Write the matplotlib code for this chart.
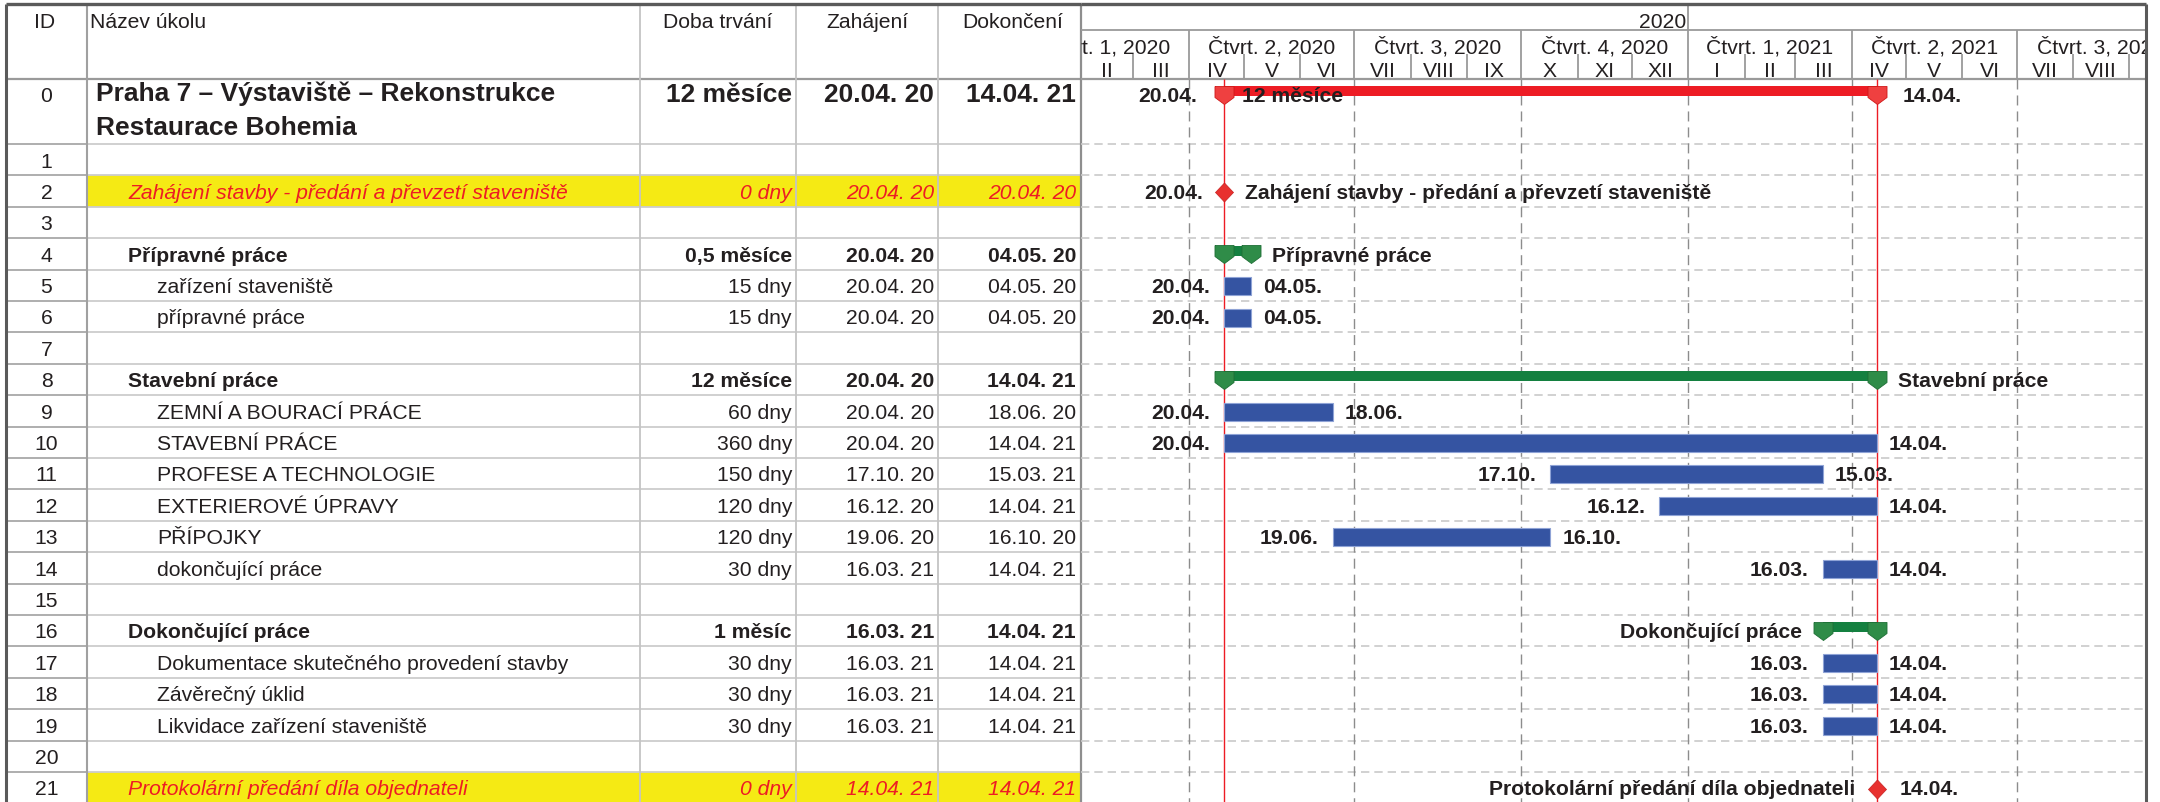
import datetime as dt
import matplotlib
matplotlib.use("Agg")
import matplotlib.pyplot as plt
import matplotlib.dates as mdates
from matplotlib.path import Path
from matplotlib.patches import Rectangle

plt.rcParams['font.family'] = ['Liberation Sans', 'DejaVu Sans']
plt.rcParams['lines.scale_dashes'] = False

# ---------------- data ----------------
task_ids = list(range(22))
task_names = [
    "Praha 7 – Výstaviště – Rekonstrukce\nRestaurace Bohemia",
    "",
    "Zahájení stavby - předání a převzetí staveniště",
    "",
    "Přípravné práce",
    "zařízení staveniště",
    "přípravné práce",
    "",
    "Stavební práce",
    "ZEMNÍ A BOURACÍ PRÁCE",
    "STAVEBNÍ PRÁCE",
    "PROFESE A TECHNOLOGIE",
    "EXTERIEROVÉ ÚPRAVY",
    "PŘÍPOJKY",
    "dokončující práce",
    "",
    "Dokončující práce",
    "Dokumentace skutečného provedení stavby",
    "Závěrečný úklid",
    "Likvidace zařízení staveniště",
    "",
    "Protokolární předání díla objednateli",
]
durations = ["12 měsíce", "", "0 dny", "", "0,5 měsíce", "15 dny", "15 dny", "",
             "12 měsíce", "60 dny", "360 dny", "150 dny", "120 dny", "120 dny", "30 dny", "",
             "1 měsíc", "30 dny", "30 dny", "30 dny", "", "0 dny"]
starts = ["20.04. 20", "", "20.04. 20", "", "20.04. 20", "20.04. 20", "20.04. 20", "",
          "20.04. 20", "20.04. 20", "20.04. 20", "17.10. 20", "16.12. 20", "19.06. 20", "16.03. 21", "",
          "16.03. 21", "16.03. 21", "16.03. 21", "16.03. 21", "", "14.04. 21"]
finishes = ["14.04. 21", "", "20.04. 20", "", "04.05. 20", "04.05. 20", "04.05. 20", "",
            "14.04. 21", "18.06. 20", "14.04. 21", "15.03. 21", "14.04. 21", "16.10. 20", "14.04. 21", "",
            "14.04. 21", "14.04. 21", "14.04. 21", "14.04. 21", "", "14.04. 21"]
task_kinds = ["project", "blank", "milestone", "blank", "summary", "task", "task", "blank",
              "summary", "task", "task", "task", "task", "task", "task", "blank",
              "summary", "task", "task", "task", "blank", "milestone"]
outline_levels = [0, 0, 1, 0, 1, 2, 2, 0, 1, 2, 2, 2, 2, 2, 2, 0, 1, 2, 2, 2, 0, 1]
# side of the Gantt name label for summaries / milestones
name_side = ["", "", "right", "", "right", "", "", "", "right", "", "", "", "", "", "", "",
             "left", "", "", "", "", "left"]

col_headers = ["ID", "Název úkolu", "Doba trvání", "Zahájení", "Dokončení"]
month_labels = ["I", "II", "III", "IV", "V", "VI", "VII", "VIII", "IX", "X", "XI", "XII"]
quarter_fmt = "Čtvrt. {q}, {y}"
year_labels = ["2020"]

# ---------------- layout (pixels) ----------------
W, H = 2160, 803
X_LEFT, X_ID, X_DUR, X_START, X_END, X_GANTT, X_RIGHT = 6, 87, 640, 796, 938, 1081, 2146
Y_TOP_PX, Y_HEAD_PX, ROW_PX, ROW0_PX = 5, 80, 31.4, 65

TXT = '#231F20'
RED = '#ED1C24'
YEL = '#F5EA14'
BLUE = '#3554A2'
GREEN_BAR = '#148040'
GREEN_MK = '#2F8C48'
RED_MK = '#EF4040'
HDR = '#9A9A9A'
FS = 15.2
FS0 = 19

U = ROW_PX
def px(v):
    return v / U

y_top = -(Y_HEAD_PX - Y_TOP_PX) / U
y_bot = (H - Y_HEAD_PX) / U
row0_h = ROW0_PX / U

def rtop(i):
    return 0.0 if i == 0 else row0_h + (i - 1)

def parse(s):
    d, m, y = s.replace(' ', '').split('.')
    return dt.datetime(2000 + int(y), int(m), int(d))

fig = plt.figure(figsize=(W / 100, H / 100), dpi=100)
ax_t = fig.add_axes([X_LEFT / W, 0, (X_GANTT - X_LEFT) / W, (H - Y_TOP_PX) / H])
ax_g = fig.add_axes([X_GANTT / W, 0, (X_RIGHT - X_GANTT) / W, (H - Y_TOP_PX) / H])
for ax in (ax_t, ax_g):
    ax.set_ylim(y_bot, y_top)
    ax.axis('off')
ax_t.set_xlim(X_LEFT, X_GANTT)
t_ref = mdates.date2num(dt.datetime(2020, 4, 1))
gx0, gx1 = t_ref - 59.7, t_ref + 527.2
ax_g.set_xlim(gx0, gx1)

# ---------------- table ----------------
for i in task_ids:
    if task_kinds[i] == 'milestone':
        ax_t.add_patch(Rectangle((X_ID, rtop(i)), X_GANTT - X_ID, 1, facecolor=YEL,
                                 edgecolor='none', zorder=0))

row_lines = [rtop(i) for i in range(1, 22)]
ax_t.hlines(row_lines, X_ID, X_GANTT, colors='#CDCDCD', lw=1.3, zorder=1)
ax_t.hlines(row_lines, X_LEFT, X_ID, colors='#A8A8A8', lw=1.3, zorder=1)
ax_t.hlines(0, X_LEFT, X_GANTT, colors=HDR, lw=1.6, zorder=1)
ax_t.vlines([X_DUR, X_START, X_END], y_top, y_bot, colors='#C4C4C4', lw=1.3, zorder=1)
ax_t.vlines([X_ID], y_top, y_bot, colors='#A0A0A0', lw=1.5, zorder=1)
ax_t.vlines([X_GANTT], y_top, y_bot, colors='#8E8E8E', lw=1.6, zorder=2, clip_on=False)
ax_t.vlines([X_LEFT], y_top, y_bot, colors='#5A5A5A', lw=2.2, zorder=5, clip_on=False)
for ax, (a, b) in ((ax_t, (X_LEFT, X_GANTT)), (ax_g, (gx0, gx1))):
    ax.hlines(y_top, a, b, colors='#5A5A5A', lw=2.4, zorder=5, clip_on=False)

# header texts
hb = px(28 - Y_HEAD_PX)
ax_t.text(45, hb, col_headers[0], ha='center', va='baseline', fontsize=FS, color=TXT)
ax_t.text(90, hb, col_headers[1], ha='left', va='baseline', fontsize=FS, color=TXT)
ax_t.text((X_DUR + X_START) / 2, hb, col_headers[2], ha='center', va='baseline', fontsize=FS, color=TXT)
ax_t.text((X_START + X_END) / 2, hb, col_headers[3], ha='center', va='baseline', fontsize=FS, color=TXT)
ax_t.text((X_END + X_GANTT) / 2 + 3, hb, col_headers[4], ha='center', va='baseline', fontsize=FS, color=TXT)

indent = {0: 96, 1: 128, 2: 157}
for i in task_ids:
    top = rtop(i)
    base = top + px(22.5)
    ax_t.text(46.5, top + px(22 if i == 0 else 22.5), str(task_ids[i]), ha='center', va='baseline',
              fontsize=FS, color=TXT)
    kind = task_kinds[i]
    if kind == 'blank':
        continue
    if kind == 'project':
        kw = dict(fontsize=FS0, fontweight='bold', color=TXT)
        lines = task_names[i].split('\n')
        b1 = top + px(21.5)
        ax_t.text(indent[0], b1, lines[0], ha='left', va='baseline', **kw)
        ax_t.text(indent[0], top + px(55), lines[1], ha='left', va='baseline', **kw)
        base = b1
    else:
        if kind == 'summary':
            kw = dict(fontsize=FS, fontweight='bold', color=TXT)
        elif kind == 'milestone':
            kw = dict(fontsize=FS, fontstyle='italic', color=RED)
        else:
            kw = dict(fontsize=FS, color=TXT)
        ax_t.text(indent[outline_levels[i]], base, task_names[i], ha='left', va='baseline', **kw)
    ax_t.text(X_START - 4, base, durations[i], ha='right', va='baseline', **kw)
    ax_t.text(X_END - 4, base, starts[i], ha='right', va='baseline', **kw)
    ax_t.text(X_GANTT - 5, base, finishes[i], ha='right', va='baseline', **kw)

# ---------------- gantt header ----------------
y_tier1 = px(31 - Y_HEAD_PX)
y_mtop = px(55 - Y_HEAD_PX)
ax_g.hlines([y_tier1], gx0, gx1, colors=HDR, lw=1.3)
ax_g.hlines([0], gx0, gx1, colors=HDR, lw=1.6)

months = []
y, m = 2020, 1
while dt.datetime(y, m, 1) < dt.datetime(2021, 10, 1):
    months.append(dt.datetime(y, m, 1))
    m += 1
    if m == 13:
        y, m = y + 1, 1
q_starts = [d for d in months if d.month in (1, 4, 7, 10)]
m_only = [d for d in months if d.month not in (1, 4, 7, 10)]
ax_g.vlines(mdates.date2num(q_starts), y_tier1, 0, colors=HDR, lw=1.3)
ax_g.vlines(mdates.date2num(m_only), y_mtop, 0, colors=HDR, lw=1.3)
ax_g.vlines(mdates.date2num([dt.datetime(2021, 1, 1)]), y_top, y_tier1, colors=HDR, lw=1.3)

def clip_text(ax, *a, **k):
    t = ax.text(*a, **k)
    t.set_clip_on(True)
    t.set_clip_box(ax.bbox)
    return t

clip_text(ax_g, mdates.date2num(dt.datetime(2021, 1, 1)) - px(0) - 1.2, px(28 - Y_HEAD_PX),
          year_labels[0], ha='right', va='baseline', fontsize=FS, color=TXT)
for qs in q_starts:
    nxt = dt.datetime(qs.year + (qs.month + 3 > 12), (qs.month + 2) % 12 + 1, 1)
    c = (mdates.date2num(qs) + mdates.date2num(nxt)) / 2
    clip_text(ax_g, c, px(53 - Y_HEAD_PX), quarter_fmt.format(q=(qs.month - 1) // 3 + 1, y=qs.year),
              ha='center', va='baseline', fontsize=FS, color=TXT)
for ms in months:
    nxt = dt.datetime(ms.year + (ms.month == 12), ms.month % 12 + 1, 1)
    c = (mdates.date2num(ms) + mdates.date2num(nxt)) / 2
    clip_text(ax_g, c, px(77 - Y_HEAD_PX), month_labels[ms.month - 1],
              ha='center', va='baseline', fontsize=FS, color=TXT)

# ---------------- gantt body ----------------
ax_g.hlines(row_lines, gx0, gx1, colors='#C9C9C9', lw=1.2, linestyles=[(0, (6, 3.6))], zorder=1)
ax_g.vlines(mdates.date2num(q_starts), 0, y_bot, colors='#8C8C8C', lw=1.0,
            linestyles=[(0, (7.2, 4.3))], zorder=1)
ax_g.vlines([gx1], y_top, y_bot, colors='#5A5A5A', lw=2.2, zorder=5, clip_on=False)

p_start = mdates.date2num(parse(starts[0]))
p_end = mdates.date2num(parse(finishes[0]) + dt.timedelta(days=1))
ax_g.vlines([p_start, p_end], 0, y_bot, colors=RED, lw=1.0, zorder=2)

PENT = Path([(-9.5, 9), (9.5, 9), (9.5, -2), (0, -9), (-9.5, -2), (-9.5, 9)])
DIAM = Path([(0, 9.5), (9, 0), (0, -9.5), (-9, 0), (0, 9.5)])

def lab(x, y, s, dx, ha):
    ax_g.annotate(s, (x, y), xytext=(dx, 0), textcoords='offset pixels', ha=ha, va='baseline',
                  fontsize=FS, fontweight='bold', color=TXT, zorder=6, annotation_clip=False)

for i in task_ids:
    kind = task_kinds[i]
    if kind == 'blank':
        continue
    top = rtop(i)
    base = top + px(22.5)
    x0 = mdates.date2num(parse(starts[i]))
    x1 = mdates.date2num(parse(finishes[i]) + dt.timedelta(days=1))
    if kind == 'task':
        ax_g.barh(top + px(16.5), x1 - x0, left=x0, height=px(18), color=BLUE,
                  edgecolor='#8FA3D6', linewidth=0.8, zorder=3)
        lab(x0, base, starts[i][:6], -14, 'right')
        lab(x1, base, finishes[i][:6], 12, 'left')
    elif kind in ('summary', 'project'):
        bc, mc, ec = (RED, RED_MK, '#D01818') if kind == 'project' else (GREEN_BAR, GREEN_MK, '#1E6E35')
        ax_g.barh(top + px(12.3), x1 - x0, left=x0, height=px(10), color=bc, zorder=3)
        ax_g.plot([x0, x1], [top + px(16)] * 2, ls='none', marker=PENT, ms=13.7, color=mc,
                  mec=ec, mew=0.6, zorder=4)
        if kind == 'project':
            lab(x0, base, starts[i][:6], -27, 'right')
            lab(x0, base, durations[i], 18, 'left')
            lab(x1, base, finishes[i][:6], 26, 'left')
        elif name_side[i] == 'right':
            lab(x1, base, task_names[i], 21, 'left')
        else:
            lab(x0, base, task_names[i], -21, 'right')
    elif kind == 'milestone':
        # milestone placed at start of day when named on the right, end of day otherwise
        xm = x0 if name_side[i] == 'right' else x1
        ax_g.plot([xm], [top + px(16.5)], ls='none', marker=DIAM, ms=13.7, color='#E8312F',
                  mec='#C82020', mew=0.5, zorder=4)
        if name_side[i] == 'right':
            lab(xm, base, starts[i][:6], -21, 'right')
            lab(xm, base, task_names[i], 21, 'left')
        else:
            lab(xm, base, task_names[i], -22, 'right')
            lab(xm, base, finishes[i][:6], 23, 'left')

fig.savefig('out.png', dpi=100)
